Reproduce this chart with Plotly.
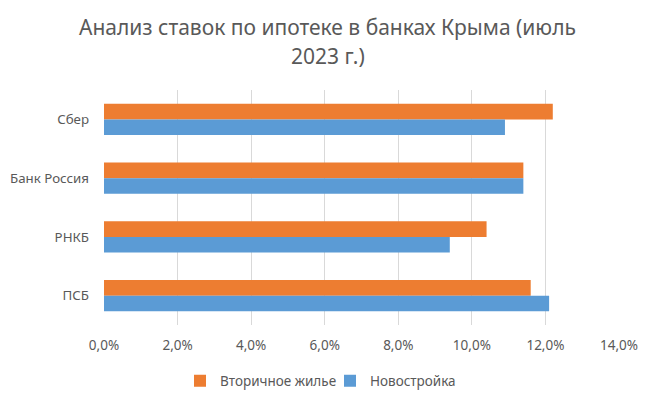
import plotly.graph_objects as go

banks = ["Сбер", "Банк Россия", "РНКБ", "ПСБ"]
secondary = [0.122, 0.114, 0.104, 0.116]
new_build = [0.109, 0.114, 0.094, 0.121]
series_names = ["Вторичное жилье", "Новостройка"]
title_lines = ["Анализ ставок по ипотеке в банках Крыма (июль", "2023 г.)"]
x_ticks = [0, 0.02, 0.04, 0.06, 0.08, 0.10, 0.12, 0.14]

FONT = "Noto Sans"
GREY = "#595959"

fig = go.Figure()
fig.add_trace(go.Bar(y=banks, x=secondary, orientation="h", name=series_names[0],
                     marker=dict(color="#ED7D31", line=dict(width=0))))
fig.add_trace(go.Bar(y=banks, x=new_build, orientation="h", name=series_names[1],
                     marker=dict(color="#5B9BD5", line=dict(width=0))))

W, H = 657, 399
L, R, T, B = 104, 38, 90, 74

fig.update_layout(
    width=W, height=H,
    margin=dict(l=L, r=R, t=T, b=B, pad=0, autoexpand=False),
    paper_bgcolor="white", plot_bgcolor="white",
    barmode="group", bargap=0.47, bargroupgap=0,
    separators=", ",
    font=dict(family=FONT, size=13, color=GREY),
    xaxis=dict(range=[0, 0.14], tickvals=x_ticks, tickformat=".1%",
               showgrid=True, gridcolor="#D9D9D9", gridwidth=1,
               zeroline=False, showline=False, ticks="", automargin=False,
               ticklabelstandoff=10,
               tickfont=dict(size=13.5, color=GREY), fixedrange=True),
    yaxis=dict(autorange="reversed", showgrid=False, zeroline=False,
               showline=False, ticks="", ticklabelstandoff=14, automargin=False,
               tickfont=dict(size=13.3, color=GREY), fixedrange=True),
    legend=dict(orientation="h", xref="container", yref="container",
                x=180 / W, xanchor="left",
                y=1 - 381 / H, yanchor="middle",
                font=dict(size=13.5, color=GREY), traceorder="normal",
                itemwidth=30, entrywidth=105, entrywidthmode="pixels"),
    showlegend=True,
)

for i, line in enumerate(title_lines):
    fig.add_annotation(text=line, xref="paper", yref="paper",
                       x=(327.5 - L) / (W - L - R), xanchor="center",
                       y=1 + (T - [27, 56][i]) / (H - T - B), yanchor="middle",
                       showarrow=False, font=dict(size=21, color=GREY, family=FONT))

fig.write_html("out.html", config={"displayModeBar": False},
               post_script="document.body.style.margin='0';document.body.style.overflow='hidden';")
